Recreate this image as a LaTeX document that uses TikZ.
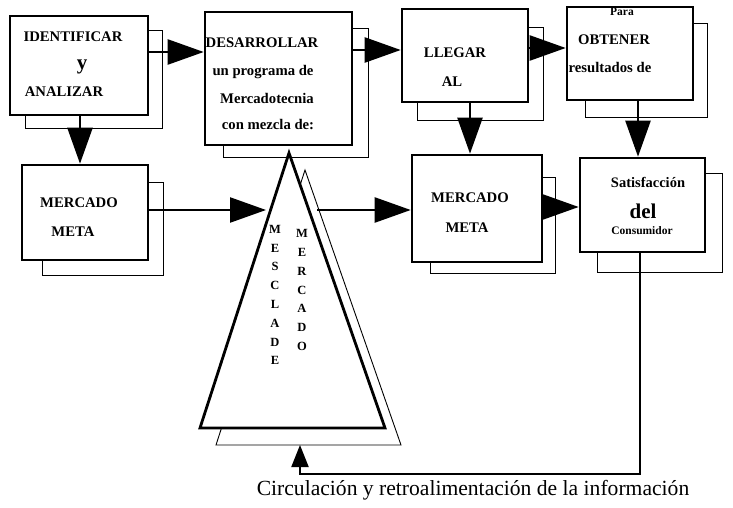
\documentclass[tikz,border=0pt]{standalone}
\usepackage{fontspec}
\setmainfont{Liberation Serif}
\usetikzlibrary{arrows.meta}
\begin{document}
\begin{tikzpicture}[x=1pt,y=-1pt,
  mainbox/.style={draw, line width=2.6pt, fill=white, inner sep=0pt},
  shadowbox/.style={draw, line width=0.9pt, fill=white, inner sep=0pt},
  lbl/.style={font=\bfseries\fontsize{14.7}{15}\selectfont, inner sep=0pt},
  biglbl/.style={font=\bfseries\fontsize{21}{21}\selectfont, inner sep=0pt},
  smalllbl/.style={font=\bfseries\fontsize{11.5}{12}\selectfont, inner sep=0pt},
  satlbl/.style={font=\bfseries\fontsize{14.5}{15}\selectfont, inner sep=0pt},
  vlbl/.style={font=\bfseries\fontsize{12.5}{18.8}\selectfont, align=center, inner sep=0pt},
  arr/.style={line width=2.4pt, -{Triangle[length=36pt,width=25pt]}},
  fbarr/.style={line width=2pt, -{Triangle[length=22pt,width=17pt]}},
  trimain/.style={draw, line width=2.8pt, fill=white, line join=miter},
  trishadow/.style={draw, line width=0.9pt, fill=white},
  caption/.style={font=\fontsize{21.6}{22}\selectfont, inner sep=0pt}]
\useasboundingbox (0,0) rectangle (733,508);

% shadows
\node[shadowbox, minimum width=137pt, minimum height=98pt] (b1s) at (93.5,79) {};
\node[shadowbox, minimum width=145pt, minimum height=129pt] (b2s) at (295.5,92.5) {};
\node[shadowbox, minimum width=126pt, minimum height=93pt] (b3s) at (480,73.5) {};
\node[shadowbox, minimum width=122pt, minimum height=94pt] (b4s) at (646,70) {};
\node[shadowbox, minimum width=121pt, minimum height=93pt] (b5s) at (102.5,228.5) {};
\node[shadowbox, minimum width=125pt, minimum height=96pt] (b6s) at (492.5,225) {};
\node[shadowbox, minimum width=125pt, minimum height=99pt] (b7s) at (659.5,222.5) {};

% main boxes
\node[mainbox, minimum width=138pt, minimum height=99pt] (b1) at (79,65.5) {};
\node[mainbox, minimum width=147pt, minimum height=133pt] (b2) at (278.5,78.5) {};
\node[mainbox, minimum width=126pt, minimum height=93pt] (b3) at (465,55.5) {};
\node[mainbox, minimum width=126pt, minimum height=93pt] (b4) at (630,53.5) {};
\node[mainbox, minimum width=126pt, minimum height=95pt] (b5) at (85,212.5) {};
\node[mainbox, minimum width=130pt, minimum height=107pt] (b6) at (477,208.5) {};
\node[mainbox, minimum width=125pt, minimum height=94pt] (b7) at (642.5,205) {};

% triangle (mezcla de mercado)
\coordinate (sa) at (305,170);
\coordinate (sl) at (216,445);
\coordinate (sr) at (401,445);
\coordinate (ta) at (289,153);
\coordinate (tl) at (200,428);
\coordinate (tr) at (385,428);
\draw[trishadow] (sa) -- (sl) -- (sr) -- cycle;
\draw[trimain] (ta) -- (tl) -- (tr) -- cycle;
\coordinate (tin) at (266,210);
\coordinate (tout) at (317,210);

% arrow anchor helpers
\coordinate (y12) at (0,52);
\coordinate (y23) at (0,50);
\coordinate (y34) at (0,48);
\coordinate (x15) at (80,0);
\coordinate (x36) at (470,0);
\coordinate (x47) at (638,0);
\coordinate (y67) at (0,207);

\draw[arr] (b1.east |- y12) -- (b2.west |- y12);
\draw[arr] (b2.east |- y23) -- (b3.west |- y23);
\draw[arr] (b3.east |- y34) -- (b4.west |- y34);
\draw[arr] (b1.south -| x15) -- (b5.north -| x15);
\draw[arr] (b3.south -| x36) -- (b6.north -| x36);
\draw[arr] (b4.south -| x47) -- (b7.north -| x47);
\draw[arr] (b5.east |- tin) -- (tin);
\draw[arr] (tout) -- (b6.west |- tout);
\draw[arr] (b6.east |- y67) -- (b7.west |- y67);

% feedback
\coordinate (fb1) at (640,474);
\coordinate (fb2) at (300,474);
\coordinate (fbt) at (300,445);
\draw[fbarr] (b7.south -| fb1) -- (fb1) -- (fb2) -- (fbt);

% texts
\node[lbl] (t1a) at (73,37) {IDENTIFICAR};
\node[biglbl] (t1b) at (82,67) {y};
\node[lbl] (t1c) at (64,92) {ANALIZAR};
\node[lbl] (t2a) at (262,43) {DESARROLLAR};
\node[lbl] (t2b) at (263,72) {un programa de};
\node[lbl] (t2c) at (267,98) {Mercadotecnia};
\node[lbl] (t2d) at (268,125) {con mezcla de:};
\node[lbl] (t3a) at (455,53) {LLEGAR};
\node[lbl] (t3b) at (452,82) {AL};
\node[smalllbl] (t4a) at (622,12) {Para};
\node[lbl] (t4b) at (614,40) {OBTENER};
\node[lbl] (t4c) at (610,67) {resultados de};
\node[lbl] (t5a) at (79,203) {MERCADO};
\node[lbl] (t5b) at (73,232) {META};
\node[lbl] (t6a) at (470,198) {MERCADO};
\node[lbl] (t6b) at (467,228) {META};
\node[satlbl] (t7a) at (648,182) {Satisfacción};
\node[biglbl] (t7b) at (643,211) {del};
\node[smalllbl] (t7c) at (642,231) {Consumidor};
\node[vlbl] (mescla) at (275,295) {M\\E\\S\\C\\L\\A\\D\\E};
\node[vlbl] (mercado) at (302,290) {M\\E\\R\\C\\A\\D\\O};
\node[caption] (cap) at (473,490) {Circulación y retroalimentación de la información};
\end{tikzpicture}
\end{document}
